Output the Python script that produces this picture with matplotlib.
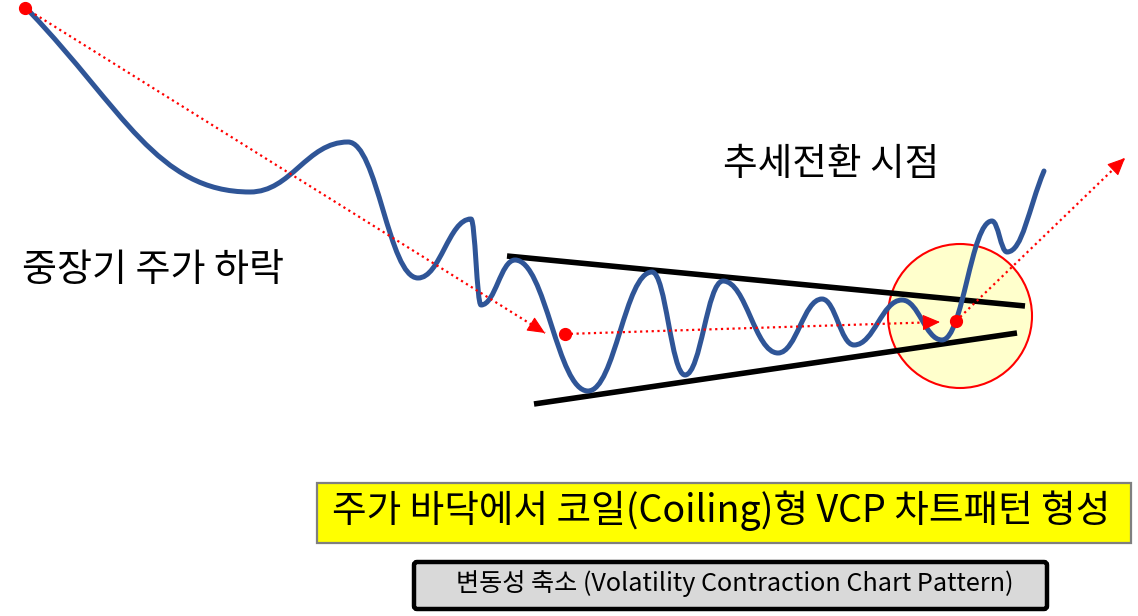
import numpy as np
import matplotlib
matplotlib.use('Agg')
import matplotlib.pyplot as plt
from matplotlib.path import Path
from matplotlib.patches import PathPatch, Circle, Rectangle, FancyBboxPatch

plt.rcParams['font.family'] = ['Noto Sans CJK KR', 'DejaVu Sans']

W, H = 1138, 616

# price curve key points (pixel coords, y down): start, extrema..., end
curve_x = [30, 250, 348, 418, 471, 481, 515, 588, 652, 685, 723, 778, 822, 854, 902, 942, 992, 1007, 1044]
curve_y = [12, 192, 142, 278, 219, 305, 260, 391, 272, 375, 281, 353, 299, 345, 300, 340, 221, 252, 171]

# red dotted trend arrows: (start, tip)
arrow_from = [(25, 8), (565, 334), (956, 321)]
arrow_to = [(545, 333), (940, 322), (1125, 158)]

# black wedge lines
upper_line = [(507, 256), (1025, 306)]
lower_line = [(534, 404), (1017, 333)]

label_left = '중장기 주가 하락'
label_turn = '추세전환 시점'
title_text = '주가 바닥에서 코일(Coiling)형 VCP 차트패턴 형성'
sub_text = '변동성 축소 (Volatility Contraction Chart Pattern)'

fig = plt.figure(figsize=(W / 100, H / 100), dpi=100)
ax = fig.add_axes([0, 0, 1, 1])
ax.set_xlim(0, W)
ax.set_ylim(H, 0)
ax.axis('off')

# breakout circle
ax.add_patch(Circle((960, 316), 72, facecolor='#FFFFCC', edgecolor='red', lw=1.5, zorder=1))

# wedge lines
for ln in (upper_line, lower_line):
    ax.plot([ln[0][0], ln[1][0]], [ln[0][1], ln[1][1]], color='black', lw=4, solid_capstyle='butt', zorder=2)

# smooth price curve: cubic beziers, horizontal tangents at the extrema
pts = np.column_stack([curve_x, curve_y]).astype(float)
tang = np.tile([1.0, 0.0], (len(pts), 1))
tang[0] = [1.0, 1.05]
tang[-1] = [1.0, -2.4]
verts = [tuple(pts[0])]
codes = [Path.MOVETO]
for i in range(len(pts) - 1):
    dx = pts[i + 1][0] - pts[i][0]
    h = 0.42 * dx
    c1 = pts[i] + h * tang[i]
    c2 = pts[i + 1] - h * tang[i + 1]
    verts += [tuple(c1), tuple(c2), tuple(pts[i + 1])]
    codes += [Path.CURVE4] * 3
ax.add_patch(PathPatch(Path(verts, codes), facecolor='none', edgecolor='#2F5597',
                       lw=3.6, capstyle='round', joinstyle='round', zorder=3))

# red dotted arrows
for (x0, y0), (x1, y1) in zip(arrow_from, arrow_to):
    ax.plot([x0, x1], [y0, y1], color='red', lw=1.6, ls=(0, (1, 1.6)), zorder=4)
    v = np.array([x1 - x0, y1 - y0], float)
    v /= np.linalg.norm(v)
    ax.annotate('', xy=(x1, y1), xytext=(x1 - 12 * v[0], y1 - 12 * v[1]),
                arrowprops=dict(arrowstyle='-|>,head_length=1.1,head_width=0.5', color='red',
                                lw=0.8, shrinkA=0, shrinkB=0, mutation_scale=10), zorder=4)
    ax.plot(x0, y0, 'o', color='red', ms=8.5, zorder=5)

# text boxes
ax.add_patch(Rectangle((317, 483), 814, 60, facecolor='#FFFF00', edgecolor='#7F7F7F', lw=1.6, zorder=1))
ax.add_patch(FancyBboxPatch((414, 562), 633, 47, boxstyle='round,pad=0,rounding_size=3',
                            facecolor='#D9D9D9', edgecolor='black', lw=3.2, zorder=1))

renderer = fig.canvas.get_renderer()


def fit_text(x, y, s, width):
    t = ax.text(x, y, s, ha='left', va='center', fontsize=20, color='black', zorder=6)
    w = t.get_window_extent(renderer).width
    t.set_fontsize(20 * width / w)
    return t


fit_text(22, 270, label_left, 262)
fit_text(723, 165, label_turn, 216)
fit_text(332, 511, title_text, 778)
fit_text(456, 584, sub_text, 558)

fig.savefig('out.png', dpi=100)
